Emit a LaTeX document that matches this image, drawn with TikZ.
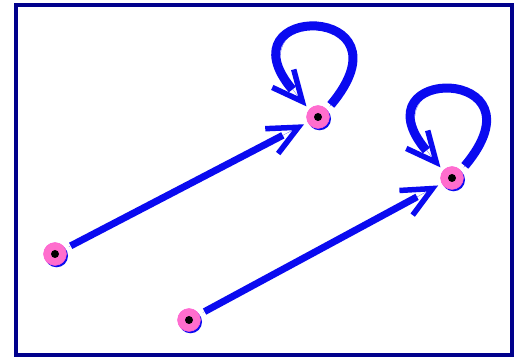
\documentclass[tikz,border=0pt]{standalone}
\usetikzlibrary{arrows.meta}
\definecolor{framec}{RGB}{0,0,140}
\definecolor{edgec}{RGB}{10,10,240}
\definecolor{pinkc}{RGB}{255,110,205}
\tikzset{
  vert/.style={circle, minimum size=23pt, inner sep=0pt, fill=pinkc, draw=pinkc!80!magenta, line width=0.4pt},
  vshadow/.style={circle, minimum size=23pt, inner sep=0pt, fill=edgec},
  dotc/.style={circle, minimum size=8pt, inner sep=0pt, fill=black},
  tiponly/.style={draw=edgec, line width=0.1pt, -{Straight Barb[length=30pt,width=28pt,line width=5.5pt]}, shorten >=4pt, shorten <=4pt},
  shaftline/.style={draw=edgec, line width=7pt, shorten >=28pt, shorten <=6pt},
  loopshaft/.style={draw=edgec, line width=9pt, shorten >=26pt, shorten <=6pt}
}
\begin{document}
\begin{tikzpicture}[x=1pt,y=-1pt]
\useasboundingbox (0,0) rectangle (520,358);
\fill[white] (0,0) rectangle (520,358);
\draw[framec, line width=3.5pt] (16,5) rectangle (512,355);
% shadows
\foreach \p/\q in {55/254, 318/117, 189/320, 452/178}{
  \node[vshadow] at (\p+1.5,\q+1.8) {};
}
\node[vert] (A) at (55,254) {};
\node[vert] (B) at (318,117) {};
\node[vert] (C) at (189,320) {};
\node[vert] (D) at (452,178) {};
\node[dotc] (a) at (A) {};
\node[dotc] (b) at (B) {};
\node[dotc] (c) at (C) {};
\node[dotc] (d) at (D) {};
\draw[shaftline] (A) -- (B);
\draw[tiponly] (A) -- (B);
\draw[shaftline] (C) -- (D);
\draw[tiponly] (C) -- (D);
\draw[loopshaft] (B.40) .. controls +(-50:140) and +(-130:140) .. (B.140);
\draw[tiponly] (B.40) .. controls +(-50:140) and +(-130:140) .. (B.140);
\draw[loopshaft] (D.40) .. controls +(-50:138) and +(-130:138) .. (D.140);
\draw[tiponly] (D.40) .. controls +(-50:138) and +(-130:138) .. (D.140);
\end{tikzpicture}
\end{document}
